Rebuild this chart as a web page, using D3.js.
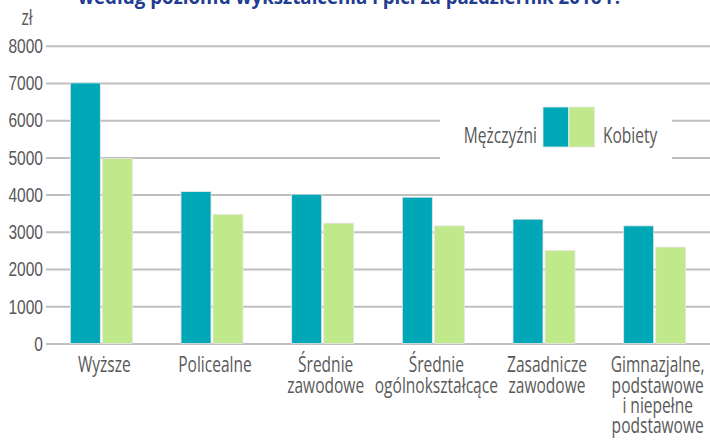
<!DOCTYPE html>
<html>
<head>
<meta charset="utf-8">
<script src="https://cdn.jsdelivr.net/npm/d3@7"></script>
<style>
  body { margin: 0; background: #fff; }
  svg { display: block; font-family: "Open Sans", "Noto Sans", sans-serif; }
</style>
</head>
<body>
<div id="chart"></div>
<script>
const title = "według poziomu wykształcenia i płci za październik 2016 r.";
const categories = [
    ["Wyższe"],
    ["Policealne"],
    ["Średnie", "zawodowe"],
    ["Średnie", "ogólnokształcące"],
    ["Zasadnicze", "zawodowe"],
    ["Gimnazjalne,", "podstawowe", "i niepełne", "podstawowe"]
];
const seriesNames = ["Mężczyźni", "Kobiety"];
const menValues = [7000, 4080, 4010, 3930, 3340, 3160];
const womenValues = [4970, 3466, 3233, 3160, 2500, 2590];
const yTicks = [0, 1000, 2000, 3000, 4000, 5000, 6000, 7000, 8000];

const colors = ["#00a8b7", "#c0e98b"];
const width = 710, height = 440;
const margin = { top: 45.7, right: 0, bottom: 96.5, left: 46 };
const sx = 0.74;          // the original uses a condensed face
const fontSize = "21px";
const textColor = "#595959";

const svg = d3.select("#chart").append("svg")
    .attr("width", width)
    .attr("height", height);

// condensed text helper: anchor point stays put, glyphs squeezed horizontally
function narrowText(sel, x, y, anchor) {
    return sel.append("text")
        .attr("transform", `translate(${x},${y}) scale(${sx},1)`)
        .attr("text-anchor", anchor)
        .style("font-size", fontSize)
        .style("fill", textColor);
}

// title, cut off at top like the original
svg.append("text")
    .attr("x", 349)
    .attr("y", 4)
    .attr("text-anchor", "middle")
    .attr("textLength", 542)
    .attr("lengthAdjust", "spacingAndGlyphs")
    .style("font-size", "20px")
    .style("font-weight", "bold")
    .style("fill", "#213c91")
    .text(title);

const x = d3.scaleBand()
    .domain(d3.range(categories.length))
    .range([margin.left, width - margin.right])
    .padding(0);

const xSeries = d3.scaleBand()
    .domain(seriesNames)
    .range([0, 62])
    .paddingInner(0.0625);

const y = d3.scaleLinear()
    .domain([0, 8000])
    .range([height - margin.bottom, margin.top]);

// gridlines + y labels
const yAxis = svg.append("g")
    .attr("transform", `translate(${margin.left},0)`)
    .call(d3.axisLeft(y)
        .tickValues(yTicks)
        .tickFormat(d3.format("d"))
        .tickSize(-(width - margin.left - margin.right))
        .tickPadding(3));
yAxis.select(".domain").remove();
yAxis.selectAll(".tick line").attr("stroke", "#bfbfbf").attr("stroke-width", 2);
yAxis.selectAll(".tick text")
    .attr("x", -3 / sx)
    .attr("transform", `scale(${sx},1)`)
    .style("font-size", fontSize)
    .style("font-family", "inherit")
    .style("fill", textColor);

narrowText(svg, 27, 25, "middle").text("zł");

// bars
const data = categories.map((c, i) => ({ i, values: [menValues[i], womenValues[i]] }));
const groups = svg.append("g").selectAll("g")
    .data(data)
    .join("g")
    .attr("transform", d => `translate(${x(d.i) + x.bandwidth() / 2 - 31},0)`);

groups.selectAll("rect")
    .data(d => d.values.map((v, k) => ({ name: seriesNames[k], value: v, k })))
    .join("rect")
    .attr("x", d => xSeries(d.name))
    .attr("y", d => y(d.value))
    .attr("width", xSeries.bandwidth())
    .attr("height", d => y(0) - y(d.value))
    .attr("fill", d => colors[d.k])
    .attr("stroke", "#e6e6e6")
    .attr("stroke-width", 0.8);

// category labels
const labelGroup = svg.append("g");
categories.forEach((lines, i) => {
    const t = narrowText(labelGroup, x(i) + x.bandwidth() / 2 + 3, 372, "middle");
    t.selectAll("tspan")
        .data(lines)
        .join("tspan")
        .attr("x", 0)
        .attr("dy", (d, j) => j === 0 ? 0 : 20.5)
        .text(d => d);
});

// legend
const legend = svg.append("g");
legend.append("rect")
    .attr("x", 440).attr("y", 100)
    .attr("width", 232).attr("height", 64)
    .attr("fill", "#fff");
legend.selectAll("rect.sw")
    .data(seriesNames)
    .join("rect")
    .attr("class", "sw")
    .attr("x", (d, i) => 543 + i * 26)
    .attr("y", 107)
    .attr("width", 25.5)
    .attr("height", 40)
    .attr("fill", (d, i) => colors[i])
    .attr("stroke", "#e6e6e6")
    .attr("stroke-width", 0.8);
narrowText(legend, 537, 143, "end").text(seriesNames[0]);
narrowText(legend, 603, 143, "start").text(seriesNames[1]);
</script>
</body>
</html>
